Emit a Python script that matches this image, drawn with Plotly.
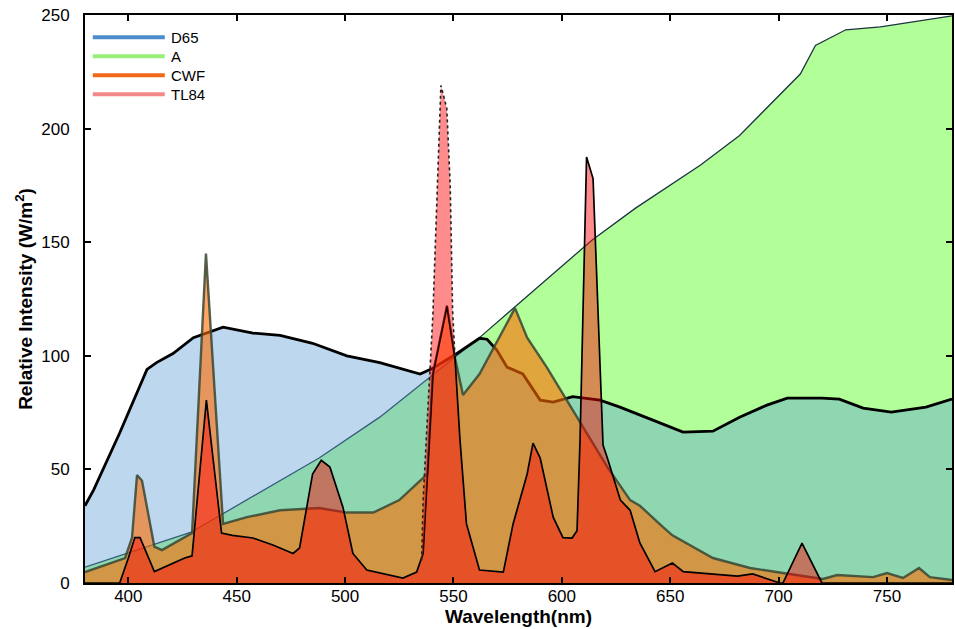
import plotly.graph_objects as go

# ---------------- data ----------------
d65_x = [380, 384, 396, 408.6, 413, 420.6, 430, 443.7, 457.5, 470, 485, 500.8, 516, 534.6, 540.5,
         551.6, 562, 565.5, 570, 574.7, 582, 590, 596, 605, 617.6, 626.8, 642, 655.9, 669.7, 682,
         694.6, 704, 720, 728, 739, 752, 768, 780]
d65_y = [34, 41, 66, 94, 97, 101, 108, 112.6, 110, 109, 105.5, 100, 97, 92, 94.5,
         101, 107.7, 107.3, 102.5, 95, 92, 80.5, 79.6, 82, 80.5, 77.4, 71.7, 66.4, 66.8, 73,
         78.3, 81.4, 81.4, 80.9, 77, 75.2, 77.4, 81]

a_x = [380, 429, 488, 516, 562, 614, 634, 664, 682, 710, 717, 731, 747, 780]
a_y = [7, 22.4, 55, 73, 108, 151, 165, 184, 197, 224, 236.6, 243.5, 244.8, 249.6]

cwf_x = [380, 398.5, 401.7, 404, 406.3, 412, 415.5, 429.4, 435.8, 443.7, 454.7, 470, 488, 500.8,
         513, 525, 538, 540.5, 547, 550.7, 554.4, 562, 578.4, 584, 593, 607, 621, 631.5, 636,
         646.7, 651, 669.7, 686.8, 702, 720.5, 727, 743.6, 750, 757.4, 764.8, 769.8, 780]
cwf_y = [4.8, 11, 20, 47.5, 45, 16, 14.5, 22, 145, 26, 29, 32, 33, 31,
         31, 36.5, 48, 92, 122, 99, 82.7, 92, 121, 108, 95, 73, 51, 36.5, 34,
         24.6, 21, 11, 6.6, 4.4, 1.8, 3.5, 2.6, 4.4, 2.2, 6.6, 2.6, 1.3]

tl84_x = [380, 396, 400, 403, 405.4, 408.6, 412, 426, 429.4, 436, 443, 448, 457.5, 466.7, 476,
          479, 485, 489, 493, 499, 503.6, 510, 516, 526.7, 533, 536, 538, 540.5, 547, 550.7,
          553, 556, 562, 573, 577.5, 584, 586.7, 590, 596, 600.5, 604.7, 607, 608.4, 611.4,
          614.4, 619, 621, 627, 631.5, 636, 643, 651, 656, 681, 688, 700.6, 702, 710.8, 720, 780]
tl84_y = [0, 0, 11, 20, 20, 13, 5, 11, 12, 80.5, 22, 21, 19.8, 16.7, 13,
          15.4, 48, 54, 51, 33.4, 13, 5.7, 4.4, 2.2, 4.8, 13, 48, 92, 122, 99,
          63, 26, 5.7, 4.8, 26, 48, 61.6, 55, 29, 20, 19.8, 23, 63, 187.5,
          178, 60.7, 55, 36.5, 32, 17.6, 5, 8.8, 5, 3, 4, 0, 0, 17.6, 0, 0]

# narrow TL84 545 nm line (outer spike)
spike_x = [535.3, 536, 537.6, 540.5, 544.2, 546.9, 548.5, 549.6, 550.7]
spike_y = [10, 36.5, 66, 118, 219, 209, 175, 120, 99]

x_ticks = [400, 450, 500, 550, 600, 650, 700, 750]
y_ticks = [0, 50, 100, 150, 200, 250]

legend_names = ["D65", "A", "CWF", "TL84"]
legend_colors = ["#4d8ccc", "#98ee78", "#f06818", "#f48888"]

FONT = "Liberation Sans, Arial, Helvetica, sans-serif"

fig = go.Figure()

# A (incandescent)
fig.add_trace(go.Scatter(x=a_x, y=a_y, mode="lines", fill="tozeroy",
                         fillcolor="rgba(102,255,51,0.5)",
                         line=dict(color="#1d3540", width=1.3), showlegend=False))
# D65
fig.add_trace(go.Scatter(x=d65_x, y=d65_y, mode="lines", fill="tozeroy",
                         fillcolor="rgba(91,155,213,0.4)",
                         line=dict(color="black", width=2.8), showlegend=False))
# CWF
fig.add_trace(go.Scatter(x=cwf_x, y=cwf_y, mode="lines", fill="tozeroy",
                         fillcolor="rgba(255,106,0,0.6)",
                         line=dict(color="rgba(55,70,50,0.85)", width=2.4), showlegend=False))
# TL84
fig.add_trace(go.Scatter(x=tl84_x, y=tl84_y, mode="lines", fill="tozeroy",
                         fillcolor="rgba(255,0,0,0.45)",
                         line=dict(color="black", width=1.7), showlegend=False))

# outer spike polygon: spike edge, then back along the TL84 outline
inner = [(x, y) for x, y in zip(tl84_x, tl84_y) if spike_x[0] < x < spike_x[-1]]
poly_x = spike_x + [p[0] for p in reversed(inner)]
poly_y = spike_y + [p[1] for p in reversed(inner)]
fig.add_trace(go.Scatter(x=poly_x, y=poly_y, mode="lines", fill="toself",
                         fillcolor="rgba(255,0,0,0.45)",
                         line=dict(color="rgba(0,0,0,0)", width=0), showlegend=False))
fig.add_trace(go.Scatter(x=spike_x, y=spike_y, mode="lines",
                         line=dict(color="#222", width=1.6, dash="dot"), showlegend=False))

# hand-drawn legend (top-left, inside the axes)
shapes = []
annotations = []
for i, (name, col) in enumerate(zip(legend_names, legend_colors)):
    yy = 0.961 - i * 0.0335
    shapes.append(dict(type="line", xref="paper", yref="paper", x0=0.009, x1=0.092,
                       y0=yy, y1=yy, line=dict(color=col, width=4)))
    annotations.append(dict(xref="paper", yref="paper", x=0.097, y=yy, text=name,
                            showarrow=False, xanchor="left", yanchor="middle",
                            font=dict(family=FONT, size=15, color="black")))

axis_common = dict(showline=True, linecolor="black", linewidth=2, mirror="ticks",
                   ticks="inside", ticklen=6, tickwidth=2, tickcolor="black",
                   showgrid=False, zeroline=False, automargin=False,
                   tickfont=dict(family=FONT, size=17, color="black"))

fig.update_xaxes(range=[380, 780], tickvals=x_ticks, ticklabelstandoff=-3, **axis_common,
                 title=dict(text="<b>Wavelength(nm)</b>", standoff=0,
                            font=dict(family=FONT, size=19, color="black")))
fig.update_yaxes(range=[0, 250], tickvals=y_ticks, ticklabelstandoff=10, **axis_common,
                 title=dict(text="<b>Relative Intensity (W/m<sup>2</sup>)</b>", standoff=4,
                            font=dict(family=FONT, size=19, color="black")))

fig.update_layout(
    width=955, height=629,
    margin=dict(l=85, r=3, t=15, b=46),
    paper_bgcolor="white", plot_bgcolor="white",
    showlegend=False,
    shapes=shapes, annotations=annotations,
)

fig.write_html("out.html", config={"displayModeBar": False},
               post_script="document.body.style.margin='0';")
